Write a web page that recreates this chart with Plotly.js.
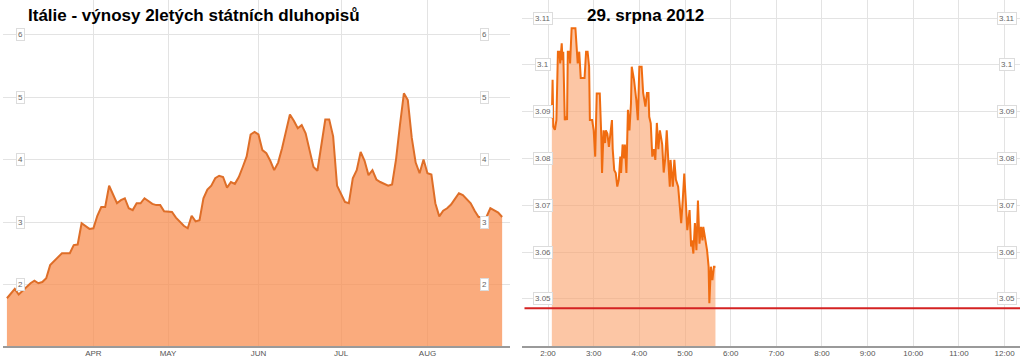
<!DOCTYPE html>
<html>
<head>
<meta charset="utf-8">
<script src="https://cdn.plot.ly/plotly-3.0.1.min.js"></script>
<style>html,body{margin:0;padding:0;background:#fff;}#chart{width:1024px;height:359px;}</style>
</head>
<body>
<div id="chart"></div>
<script>
// ---- Left panel: daily 2-year yields (trading days, Mar–Aug 2012)
const dailyDates = [
 '2012-03-01','2012-03-02','2012-03-05','2012-03-06','2012-03-07','2012-03-08','2012-03-09','2012-03-12','2012-03-13','2012-03-14','2012-03-15','2012-03-16','2012-03-19','2012-03-20','2012-03-21','2012-03-22','2012-03-23','2012-03-26','2012-03-27','2012-03-28','2012-03-29','2012-03-30',
 '2012-04-02','2012-04-03','2012-04-04','2012-04-05','2012-04-10','2012-04-11','2012-04-12','2012-04-13','2012-04-16','2012-04-17','2012-04-18','2012-04-19','2012-04-20','2012-04-23','2012-04-24','2012-04-25','2012-04-26','2012-04-27','2012-04-30',
 '2012-05-01','2012-05-02','2012-05-03','2012-05-04','2012-05-07','2012-05-08','2012-05-09','2012-05-10','2012-05-11','2012-05-14','2012-05-15','2012-05-16','2012-05-17','2012-05-18','2012-05-21','2012-05-22','2012-05-23','2012-05-24','2012-05-25','2012-05-28','2012-05-29','2012-05-30','2012-05-31',
 '2012-06-01','2012-06-04','2012-06-05','2012-06-06','2012-06-07','2012-06-08','2012-06-11','2012-06-12','2012-06-13','2012-06-14','2012-06-15','2012-06-18','2012-06-19','2012-06-20','2012-06-21','2012-06-22','2012-06-25','2012-06-26','2012-06-27','2012-06-28','2012-06-29',
 '2012-07-02','2012-07-03','2012-07-04','2012-07-05','2012-07-06','2012-07-09','2012-07-10','2012-07-11','2012-07-12','2012-07-13','2012-07-16','2012-07-17','2012-07-18','2012-07-19','2012-07-20','2012-07-23','2012-07-24','2012-07-25','2012-07-26','2012-07-27','2012-07-30','2012-07-31',
 '2012-08-01','2012-08-02','2012-08-03','2012-08-06','2012-08-07','2012-08-08','2012-08-09','2012-08-10','2012-08-13','2012-08-14','2012-08-15','2012-08-16','2012-08-17','2012-08-20','2012-08-21','2012-08-22','2012-08-23','2012-08-24','2012-08-27','2012-08-28'
];
const dailyYields = [
 1.78,1.85,1.93,1.84,1.90,1.96,2.02,2.06,2.02,2.04,2.10,2.31,2.37,2.44,2.50,2.50,2.50,2.63,2.64,2.98,2.93,2.89,
 2.90,3.10,3.24,3.24,3.58,3.43,3.30,3.35,3.38,3.22,3.19,3.30,3.30,3.38,3.33,3.29,3.27,3.27,3.17,
 3.16,3.16,3.07,3.00,2.94,2.90,3.10,3.01,3.03,3.38,3.52,3.58,3.70,3.74,3.72,3.55,3.64,3.61,3.72,3.88,4.05,4.40,4.44,
 4.40,4.15,4.10,3.98,3.83,3.95,4.18,4.45,4.72,4.62,4.50,4.55,4.42,4.15,3.88,3.82,4.25,4.64,4.64,4.37,3.58,
 3.45,3.32,3.30,3.70,3.83,4.12,3.98,3.75,3.83,3.68,3.64,3.61,3.58,3.60,4.00,4.55,5.06,4.95,4.35,3.95,3.78,4.00,
 3.78,3.76,3.30,3.09,3.18,3.22,3.28,3.37,3.46,3.43,3.37,3.30,3.18,3.08,3.08,3.08,3.22,3.18,3.15,3.08
];
const holidays = ['2012-04-06','2012-04-09'];
const monthTickDates = ['2012-04-02','2012-05-01','2012-06-01','2012-07-02','2012-08-01'];
const monthLabels = ['APR','MAY','JUN','JUL','AUG'];
const leftTicks = [2,3,4,5,6];

// ---- Right panel: intraday 29 Aug 2012
const sessionDate = '2012-08-29';
const intradayTimes = [
 '02:05','02:06','02:07','02:09','02:11','02:13','02:15','02:16','02:18','02:19','02:20','02:21','02:22','02:24','02:25','02:26','02:28','02:29','02:31','02:36',
 '02:38','02:39','02:41','02:43','02:48','02:50','02:52','02:54','02:55','02:58','03:00','03:02','03:04','03:08','03:10','03:11','03:13','03:15','03:16','03:18',
 '03:20','03:22','03:24','03:25','03:27','03:29','03:31','03:33','03:35','03:36','03:38','03:40','03:41','03:43','03:45','03:47','03:49','03:50','03:53','03:56',
 '03:58','04:00','04:03','04:05','04:08','04:10','04:12','04:13','04:15','04:17','04:19','04:21','04:23','04:25','04:27','04:30','04:32','04:34','04:36','04:38',
 '04:40','04:41','04:44','04:46','04:48','04:51','04:53','04:55','04:57','04:59','05:01','05:03','05:06','05:08','05:09','05:11','05:13','05:15','05:17','05:19',
 '05:21','05:23','05:24','05:27','05:29','05:31','05:32','05:34','05:36','05:38','05:40'
];
const intradayYields = [
 3.0886,3.0968,3.0868,3.0861,3.0882,3.1028,3.1028,3.1003,3.1046,3.1010,3.1028,3.0918,3.0882,3.0890,3.0882,3.1028,3.1028,3.1003,3.1078,3.1078,
 3.1025,3.1003,3.1028,3.0972,3.0972,3.1028,3.1028,3.0996,3.0882,3.0882,3.0860,3.0804,3.0939,3.0939,3.0847,3.0769,3.0860,3.0833,3.0860,3.0853,
 3.0825,3.0860,3.0882,3.0820,3.0775,3.0769,3.0740,3.0755,3.0804,3.0769,3.0830,3.0800,3.0830,3.0769,3.0904,3.0860,3.0918,3.0996,3.0968,3.0925,
 3.0882,3.0996,3.0996,3.0940,3.0911,3.0940,3.0940,3.0889,3.0875,3.0804,3.0820,3.0797,3.0876,3.0820,3.0860,3.0830,3.0770,3.0800,3.0860,3.0797,
 3.0740,3.0797,3.0740,3.0797,3.0755,3.0740,3.0697,3.0662,3.0710,3.0768,3.0710,3.0647,3.0690,3.0612,3.0625,3.0597,3.0662,3.0604,3.0710,3.0618,
 3.0654,3.0625,3.0654,3.0625,3.0604,3.0569,3.0491,3.0569,3.0540,3.0569,3.0569
];
const refLevel = 3.048;
const rightTicks = [3.05,3.06,3.07,3.08,3.09,3.1,3.11];

const leftTitle = 'Itálie - výnosy 2letých státních dluhopisů';
const rightTitle = '29. srpna 2012';

// ---- build
const W = 1024, H = 359;
const px = v => v / W;
const py = v => 1 - v / H;
const font = 'Liberation Sans, Arial, sans-serif';
const grid = '#e3e3e3';

const traces = [
  {
    x: dailyDates, y: dailyYields, xaxis: 'x', yaxis: 'y', type: 'scatter', mode: 'lines',
    fill: 'tozeroy', fillcolor: 'rgba(248,142,80,0.74)',
    line: {color: '#de6e28', width: 2}, hoverinfo: 'skip'
  },
  {
    x: intradayTimes.map(t => sessionDate + ' ' + t), y: intradayYields, xaxis: 'x2', yaxis: 'y2',
    type: 'scatter', mode: 'lines',
    fill: 'tozeroy', fillcolor: 'rgba(250,160,105,0.6)',
    line: {color: '#f06c10', width: 2}, hoverinfo: 'skip'
  }
];

const tickLabel = (txt, x, yref, y) => ({
  text: txt, x: x, xref: 'paper', y: y, yref: yref, showarrow: false,
  xanchor: 'center', yanchor: 'middle',
  font: {family: font, size: 8, color: '#666'},
  bgcolor: '#ffffff', bordercolor: '#dcdcdc', borderwidth: 1, borderpad: 1
});

const annotations = [];
leftTicks.forEach(v => {
  annotations.push(tickLabel(String(v), px(20), 'y', v));
  annotations.push(tickLabel(String(v), px(484), 'y', v));
});
rightTicks.forEach(v => {
  annotations.push(tickLabel(String(v), px(543), 'y2', v));
  annotations.push(tickLabel(String(v), px(1007), 'y2', v));
});
annotations.push({
  text: '<b>' + leftTitle + '</b>', x: px(26), xref: 'paper', y: py(15), yref: 'paper',
  xanchor: 'left', yanchor: 'middle', showarrow: false,
  font: {family: font, size: 17, color: '#000'}
});
annotations.push({
  text: '<b>' + rightTitle + '</b>', x: px(585), xref: 'paper', y: py(15), yref: 'paper',
  xanchor: 'left', yanchor: 'middle', showarrow: false,
  font: {family: font, size: 17, color: '#000'}
});

const layout = {
  width: W, height: H,
  margin: {l: 0, r: 0, t: 0, b: 0},
  paper_bgcolor: '#fff', plot_bgcolor: '#fff',
  showlegend: false,
  xaxis: {
    type: 'date', domain: [px(3), px(510)], anchor: 'y',
    range: ['2012-02-29', '2012-08-30'],
    rangebreaks: [{bounds: ['sat', 'mon']}, {values: holidays}],
    tickmode: 'array', tickvals: monthTickDates, ticktext: monthLabels,
    showgrid: true, gridcolor: grid, gridwidth: 1,
    showline: true, linecolor: '#9a9a9a', linewidth: 2, ticks: '',
    ticklabelstandoff: -2,
    tickfont: {family: font, size: 8, color: '#555'}, fixedrange: true
  },
  yaxis: {
    domain: [13 / H, 1], anchor: 'x', range: [1.016, 6.552],
    tickmode: 'array', tickvals: leftTicks, showticklabels: false,
    showgrid: true, gridcolor: grid, zeroline: false, showline: false, fixedrange: true
  },
  xaxis2: {
    type: 'date', domain: [px(522), px(1020)], anchor: 'y2',
    range: [sessionDate + ' 01:25:48', sessionDate + ' 12:20:12'],
    tick0: sessionDate + ' 02:00', dtick: 3600000, tickformat: '%-H:%M',
    showgrid: true, gridcolor: grid, gridwidth: 1,
    showline: true, linecolor: '#9a9a9a', linewidth: 2, ticks: '',
    ticklabelstandoff: -2,
    tickfont: {family: font, size: 8, color: '#555'}, fixedrange: true
  },
  yaxis2: {
    domain: [13 / H, 1], anchor: 'x2', range: [3.03996, 3.11385],
    tickmode: 'array', tickvals: rightTicks, showticklabels: false,
    showgrid: true, gridcolor: grid, zeroline: false, showline: false, fixedrange: true
  },
  shapes: [{
    type: 'line', xref: 'x2 domain', yref: 'y2', x0: 0.005, x1: 1, y0: refLevel, y1: refLevel,
    line: {color: '#d42222', width: 2}
  }],
  annotations: annotations
};

Plotly.newPlot('chart', traces, layout, {displayModeBar: false, staticPlot: true});
</script>
</body>
</html>
